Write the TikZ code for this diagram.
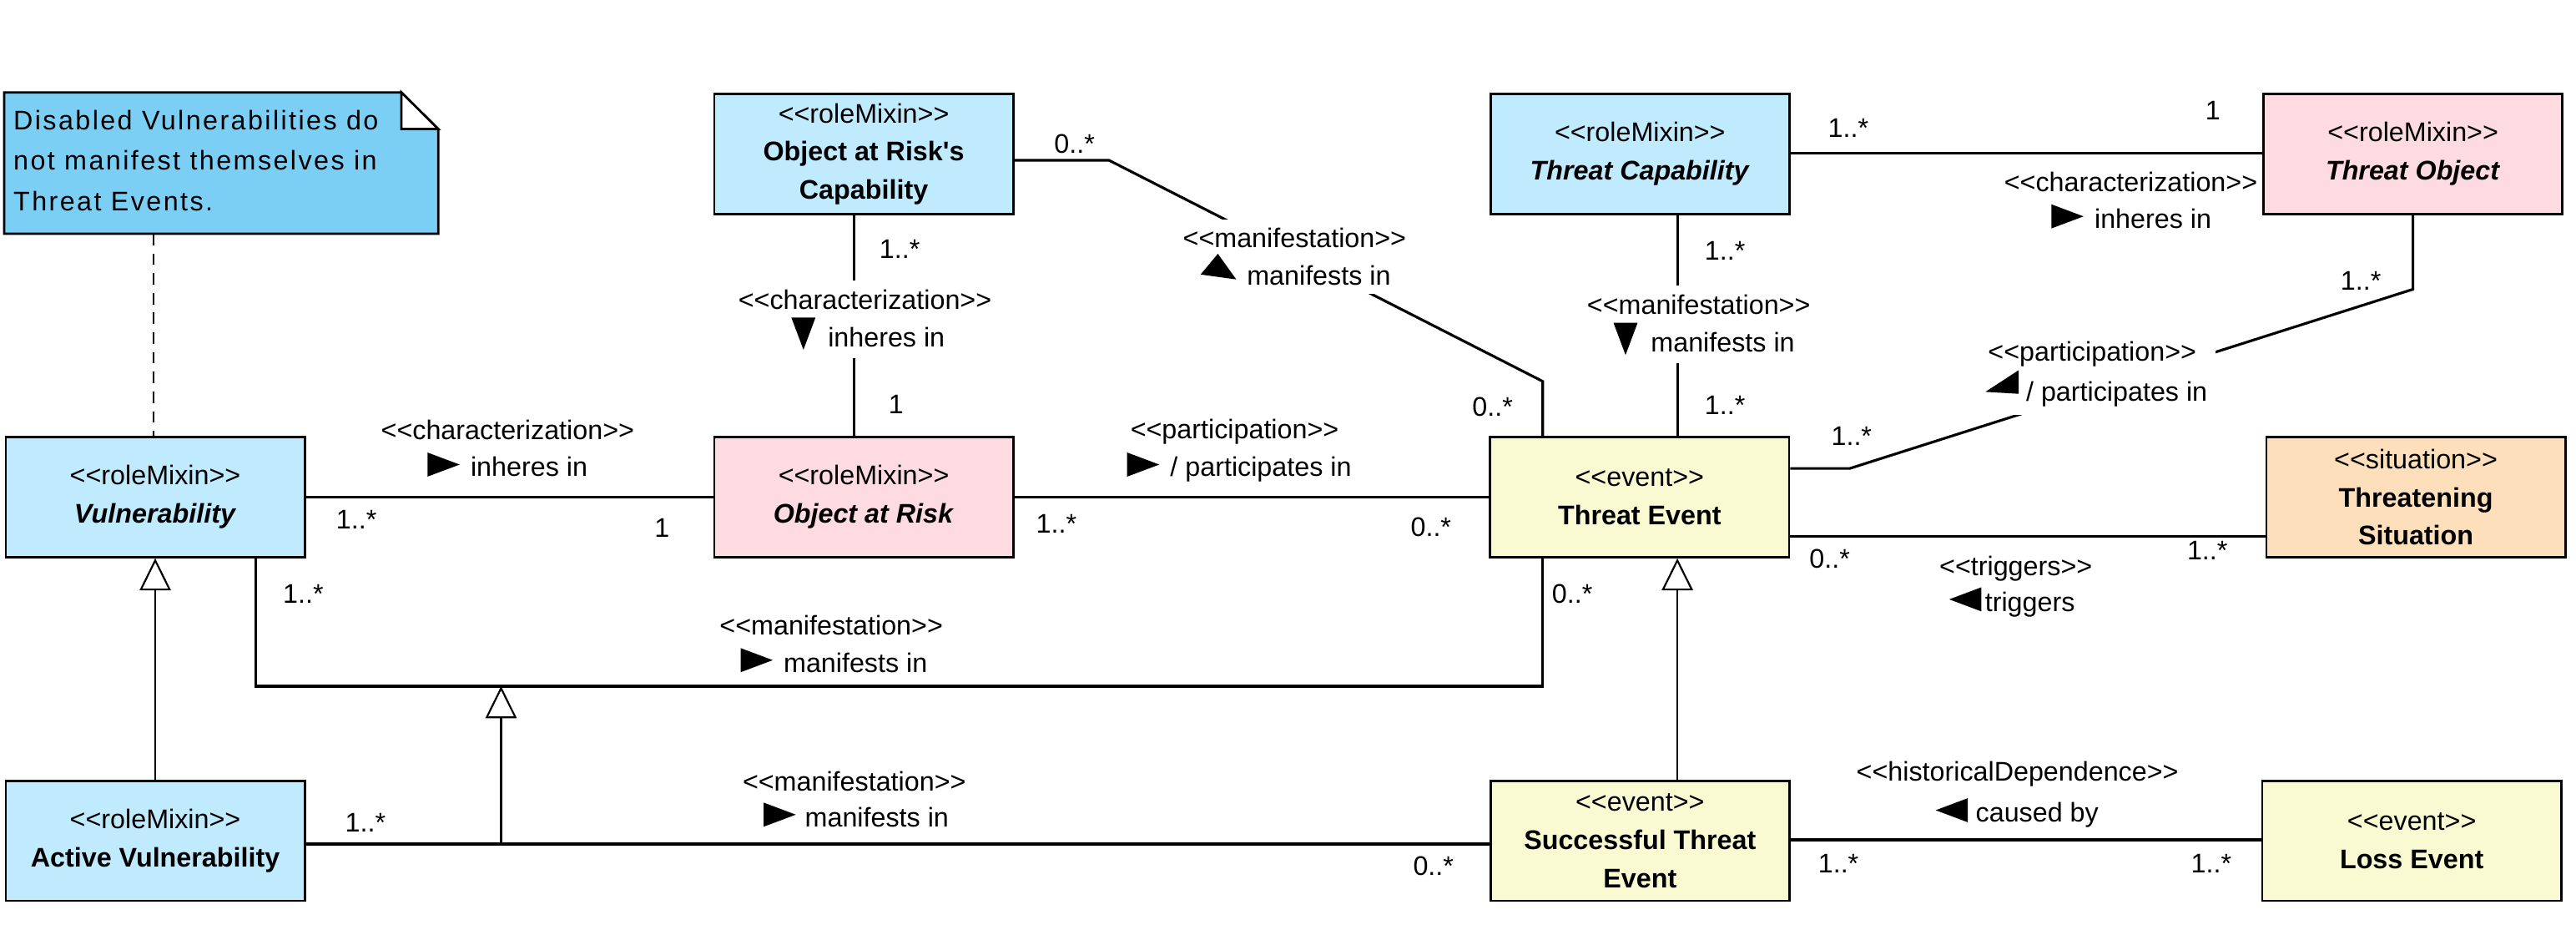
\documentclass[tikz,border=0pt]{standalone}
\usepackage{fontspec}
\setmainfont{Liberation Sans}
\newfontfamily\umlfont{Liberation Sans}
\usetikzlibrary{arrows.meta,calc,fit}
\pgfdeclarelayer{conn}
\pgfdeclarelayer{mask}
\pgfsetlayers{conn,mask,main}
\definecolor{cblue}{RGB}{192,235,254}
\definecolor{cnote}{RGB}{123,207,245}
\definecolor{cpink}{RGB}{253,219,224}
\definecolor{cyel}{RGB}{250,250,210}
\definecolor{cpeach}{RGB}{253,223,188}
\newcommand\stereo[1]{<\kern0pt<#1>\kern0pt>}
\newcommand\umlfs{\umlfont\fontsize{16.4}{22.5}\selectfont}
\newcommand\clsfs{\umlfont\fontsize{16.4}{23.3}\selectfont}
\tikzset{
  cls/.style={draw, line width=1.4pt, inner sep=0pt, align=center, font=\clsfs,
    minimum width=182pt, minimum height=73pt},
  assoc/.style={line width=1.6pt},
  gen/.style={line width=1.1pt, -{Triangle[open, length=19.5pt, width=19pt]}},
  lbl/.style={font=\umlfs, inner sep=0pt},
  mult/.style={font=\umlfs, inner sep=0pt},
  lmask/.style={fill=white, inner sep=5pt},
  notebox/.style={inner sep=0pt, minimum width=263.9pt, minimum height=85.6pt},
  notetxt/.style={inner sep=0pt, align=left,
    font={\umlfont\fontsize{16.4}{24.5}\selectfont\addfontfeature{LetterSpace=7.5}}},
}
\begin{document}
\begin{tikzpicture}[x=1pt,y=-1pt]
\useasboundingbox (0,0) rectangle (1568,562.3);

% ---------- note ----------
\node[notebox] (note) at (134.65,99.2) {};
\draw[line width=1.4pt, fill=cnote] (note.north west) -- ($(note.north east)+(-22.5,0)$)
  -- ($(note.north east)+(0,22.3)$) -- (note.south east) -- (note.south west) -- cycle;
\draw[line width=1.4pt, fill=white, line join=miter] ($(note.north east)+(-22.5,0)$)
  -- ($(note.north east)+(-22.5,22.3)$) -- ($(note.north east)+(0,22.3)$) -- cycle;
\node[notetxt, anchor=north west] (notetext) at (8,67)
  {Disabled Vulnerabilities do\\not manifest themselves in\\Threat Events.};

% ---------- classes ----------
\node[cls, fill=cblue] (vul) at (94.5,302.5) {\stereo{roleMixin}\\\textbf{\textit{Vulnerability}}};
\node[cls, fill=cpink] (oar) at (525.75,302.5) {\stereo{roleMixin}\\\textbf{\textit{Object at Risk}}};
\node[cls, fill=cblue] (orc) at (525.75,93.75) {\stereo{roleMixin}\\\textbf{Object at Risk's}\\\textbf{Capability}};
\node[cls, fill=cblue] (tc) at (998.25,93.75) {\stereo{roleMixin}\\\textbf{\textit{Threat Capability}}};
\node[cls, fill=cpink] (to) at (1468.75,93.75) {\stereo{roleMixin}\\\textbf{\textit{Threat Object}}};
\node[cls, fill=cyel] (te) at (998,302.5) {\stereo{event}\\\textbf{Threat Event}};
\node[cls, fill=cpeach] (ts) at (1470.5,302.5) {\stereo{situation}\\\textbf{Threatening}\\\textbf{Situation}};
\node[cls, fill=cblue] (av) at (94.5,511.5) {\stereo{roleMixin}\\\textbf{Active Vulnerability}};
\node[cls, fill=cyel] (ste) at (998.25,511.5) {\stereo{event}\\\textbf{Successful Threat}\\\textbf{Event}};
\node[cls, fill=cyel] (le) at (1468,511.5) {\stereo{event}\\\textbf{Loss Event}};

% ---------- helper coordinates ----------
\coordinate (x93) at (93.4,0);
\coordinate (x520) at (520,0);
\coordinate (x1021) at (1021,0);
\coordinate (x155) at (155.5,0);
\coordinate (y97) at (0,97.5);
\coordinate (y93) at (0,93);
\coordinate (y326) at (0,326.5);
\coordinate (y513) at (0,513.5);
\coordinate (y511) at (0,511);
\coordinate (c1) at (675,97.5);
\coordinate (c2) at (939,232);
\coordinate (d1) at (1468.75,176);
\coordinate (d2) at (1126,285);
\coordinate (e1) at (155.5,417.5);
\coordinate (e2) at (939,417.5);
\coordinate (g1) at (305,513.5);
\coordinate (g2) at (305,417.5);

% ---------- connectors ----------
\begin{pgfonlayer}{conn}
\draw[line width=1pt, dash pattern=on 7pt off 5pt] (note.south -| x93) -- (vul.north -| x93);
\draw[assoc] (vul) -- (oar);
\draw[assoc] (orc.south -| x520) -- (oar.north -| x520);
\draw[assoc] (orc.east |- y97) -- (c1) -- (c2) -- (te.north -| c2);
\draw[assoc] (tc.east |- y93) -- (to.west |- y93);
\draw[assoc] (tc.south -| x1021) -- (te.north -| x1021);
\draw[assoc] (to.south) -- (d1) -- (d2) -- (te.east |- d2);
\draw[assoc] (oar) -- (te);
\draw[assoc] (te.east |- y326) -- (ts.west |- y326);
\draw[assoc] (vul.south -| x155) -- (e1) -- (e2) -- (te.south -| e2);
\draw[assoc] (av.east |- y513) -- (ste.west |- y513);
\draw[assoc] (ste.east |- y511) -- (le.west |- y511);
\draw[gen] (av) -- (vul);
\draw[gen] (ste.north -| x1021) -- (te.south -| x1021);
\draw[gen] (g1) -- (g2);
\end{pgfonlayer}

% ---------- association labels ----------
% Vulnerability - Object at Risk
\node[lbl, anchor=base] (las) at (309,267.5) {\stereo{characterization}};
\node[lbl, anchor=base] (lat) at (322.05,290) {inheres in};
\fill ($(lat.base west)+(-26.1,0)$) -- ++(0,-14.7) -- ++(19.6,7.35) -- cycle;
% Object at Risk - Threat Event
\node[lbl, anchor=base] (lbs) at (751.5,267) {\stereo{participation}};
\node[lbl, anchor=base] (lbt) at (767.5,290) {/ participates in};
\fill ($(lbt.base west)+(-26.1,0)$) -- ++(0,-14.7) -- ++(19.6,7.35) -- cycle;
% Threat Capability - Threat Object
\node[lbl, anchor=base] (lcs) at (1297,116.5) {\stereo{characterization}};
\node[lbl, anchor=base] (lct) at (1310.5,139) {inheres in};
\fill ($(lct.base west)+(-26.1,0)$) -- ++(0,-14.7) -- ++(19.6,7.35) -- cycle;
% Threat Event - Threatening Situation
\node[lbl, anchor=base] (lds) at (1227,350) {\stereo{triggers}};
\node[lbl, anchor=base] (ldt) at (1235.6,372) {triggers};
\fill ($(ldt.base west)+(-2,0)$) -- ++(0,-14.7) -- ++(-19.6,7.35) -- cycle;
% Vulnerability - Threat Event
\node[lbl, anchor=base] (les) at (506,386.5) {\stereo{manifestation}};
\node[lbl, anchor=base] (let) at (520.75,409) {manifests in};
\fill ($(let.base west)+(-26,0)$) -- ++(0,-14.7) -- ++(19.6,7.35) -- cycle;
% Active Vulnerability - Successful Threat Event
\node[lbl, anchor=base] (lfs) at (520,481.5) {\stereo{manifestation}};
\node[lbl, anchor=base] (lft) at (533.75,503) {manifests in};
\fill ($(lft.base west)+(-25,0)$) -- ++(0,-14.7) -- ++(19.6,7.35) -- cycle;
% Successful Threat Event - Loss Event
\node[lbl, anchor=base] (lgs) at (1228,475) {\stereo{historicalDependence}};
\node[lbl, anchor=base] (lgt) at (1240,500.3) {caused by};
\fill ($(lgt.base west)+(-4.6,0)$) -- ++(0,-14.7) -- ++(-19.6,7.35) -- cycle;
% Object at Risk's Capability - Object at Risk (vertical)
\node[lbl, anchor=base] (lhs) at (526.5,188) {\stereo{characterization}};
\node[lbl, anchor=base] (lht) at (539.55,210.8) {inheres in};
\coordinate (lhv1) at ($(lht.base west)+(-22.1,-17.6)$);
\coordinate (lhv2) at ($(lht.base west)+(-14.75,2)$);
\fill ($(lht.base west)+(-7.4,-17.6)$) -- (lhv1) -- (lhv2) -- cycle;
% Threat Capability - Threat Event (vertical)
\node[lbl, anchor=base] (lis) at (1034,191) {\stereo{manifestation}};
\node[lbl, anchor=base] (lit) at (1048.65,214) {manifests in};
\coordinate (liv1) at ($(lit.base west)+(-22.6,-17.6)$);
\coordinate (liv2) at ($(lit.base west)+(-15.25,2)$);
\fill ($(lit.base west)+(-7.9,-17.6)$) -- (liv1) -- (liv2) -- cycle;
% Object at Risk's Capability - Threat Event (diagonal)
\node[lbl, anchor=base] (ljs) at (788,150.7) {\stereo{manifestation}};
\node[lbl, anchor=base] (ljt) at (802.75,173.5) {manifests in};
\coordinate (ljv1) at ($(ljt.base west)+(-28,-6.5)$);
\coordinate (ljv2) at ($(ljt.base west)+(-17.5,-19.1)$);
\fill (ljv1) -- (ljv2) -- ($(ljt.base west)+(-6.3,-3.5)$) -- cycle;
% Threat Object - Threat Event (diagonal)
\node[lbl, anchor=base] (lks) at (1273.5,219.5) {\stereo{participation}};
\node[lbl, anchor=base] (lkt) at (1288.45,244) {/ participates in};
\coordinate (lkv1) at ($(lkt.base west)+(-24.6,-5.6)$);
\coordinate (lkv2) at ($(lkt.base west)+(-4.3,-18.8)$);
\fill (lkv1) -- (lkv2) -- ($(lkt.base west)+(-4.3,-4.4)$) -- cycle;

\begin{pgfonlayer}{mask}
\node[lmask, fit=(lhs)(lht)(lhv1)(lhv2)] {};
\node[lmask, fit=(lis)(lit)(liv1)(liv2)] {};
\node[lmask, fit=(ljs)(ljt)(ljv1)(ljv2)] {};
\node[lmask, fit=(lks)(lkt)(lkv1)(lkv2)] {};
\end{pgfonlayer}

% ---------- multiplicities ----------
\node[mult] (m1) at (217,316) {1..*};
\node[mult] (m2) at (403,321) {1};
\node[mult] (m3) at (547.6,151.5) {1..*};
\node[mult] (m4) at (545.5,245.8) {1};
\node[mult] (m5) at (654,87.6) {0..*};
\node[mult] (m6) at (908.5,247.5) {0..*};
\node[mult] (m7) at (1125,78) {1..*};
\node[mult] (m8) at (1347,67) {1};
\node[mult] (m9) at (1050,152.8) {1..*};
\node[mult] (m10) at (1050,246.7) {1..*};
\node[mult] (m11) at (1437,171) {1..*};
\node[mult] (m12) at (1127,265.4) {1..*};
\node[mult] (m13) at (643,318.7) {1..*};
\node[mult] (m14) at (871,320.5) {0..*};
\node[mult] (m15) at (1113.7,339.8) {0..*};
\node[mult] (m16) at (1343.6,335) {1..*};
\node[mult] (m17) at (184.6,361.3) {1..*};
\node[mult] (m18) at (957,361.3) {0..*};
\node[mult] (m19) at (222.4,500.6) {1..*};
\node[mult] (m20) at (872.5,527) {0..*};
\node[mult] (m21) at (1119,525.6) {1..*};
\node[mult] (m22) at (1346,525.6) {1..*};
\end{tikzpicture}
\end{document}
